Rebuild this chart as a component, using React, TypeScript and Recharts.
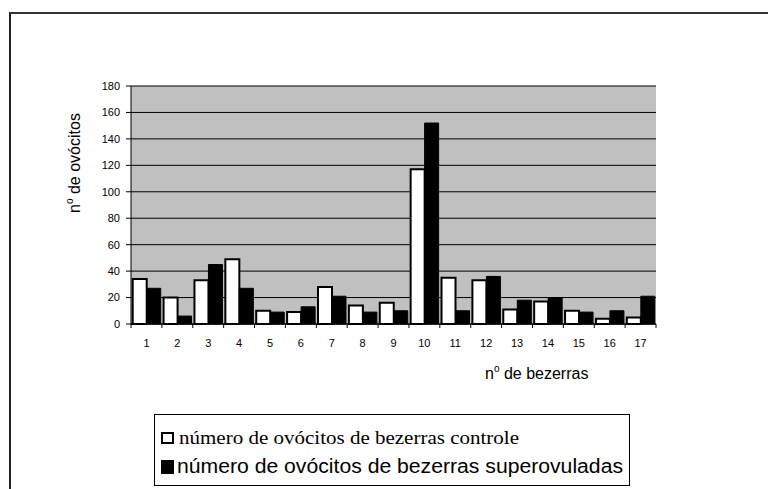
import { BarChart, Bar, XAxis, YAxis, CartesianGrid } from 'recharts';

// nº de bezerras
const categories = ['1', '2', '3', '4', '5', '6', '7', '8', '9', '10', '11', '12', '13', '14', '15', '16', '17'];
const controle = [34, 20, 33, 49, 10, 9, 28, 14, 16, 117, 35, 33, 11, 17, 10, 4, 5];
const superovuladas = [27, 6, 45, 27, 9, 13, 21, 9, 10, 152, 10, 36, 18, 20, 9, 10, 21];
const yTicks = [0, 20, 40, 60, 80, 100, 120, 140, 160, 180];

const data = categories.map((name, i) => ({
    name,
    controle: controle[i],
    superovuladas: superovuladas[i],
}));

const W = 768;
const H = 489;
const PLOT_LEFT = 131;
const PLOT_RIGHT = 656;
const BAND = (PLOT_RIGHT - PLOT_LEFT) / categories.length;

const SANS = 'Arial, "Liberation Sans", sans-serif';
const SERIF = '"Times New Roman", "Liberation Serif", serif';

function XTick(props: any) {
    const { x, y, payload, index } = props;
    const last = index === categories.length - 1;
    return (
        <g>
            <line x1={x - BAND / 2} x2={x - BAND / 2} y1={y} y2={y + 4} stroke="#000" />
            {last && <line x1={x + BAND / 2} x2={x + BAND / 2} y1={y} y2={y + 4} stroke="#000" />}
            <text x={x} y={y + 23} textAnchor="middle" fontSize={11} fontFamily={SANS} fill="#000">
                {payload.value}
            </text>
        </g>
    );
}

function YTitle() {
    return (
        <text
            x={80}
            y={163}
            transform="rotate(-90, 80, 163)"
            textAnchor="middle"
            fontSize={16}
            fontFamily={SANS}
            fill="#000"
        >
            n<tspan fontSize={10} dy={-7}>o</tspan>
            <tspan dy={7}> de ovócitos</tspan>
        </text>
    );
}

function XTitle() {
    return (
        <text x={485} y={379} fontSize={16} fontFamily={SANS} fill="#000">
            n<tspan fontSize={10} dy={-7}>o</tspan>
            <tspan dy={7}> de bezerras</tspan>
        </text>
    );
}

function LegendBox() {
    return (
        <div
            style={{
                position: 'absolute',
                left: 154,
                top: 414,
                width: 476,
                height: 72,
                border: '1px solid #000',
                boxSizing: 'border-box',
                background: '#fff',
            }}
        >
            <svg width={474} height={70} style={{ display: 'block' }}>
                <rect x={7} y={18} width={11} height={10} fill="#fff" stroke="#000" strokeWidth={2} />
                <text x={24} y={29} fontSize={19} fontFamily={SERIF} fill="#000" textLength={340} lengthAdjust="spacingAndGlyphs">
                    número de ovócitos de bezerras controle
                </text>
                <rect x={6} y={45} width={13} height={14} fill="#000" />
                <text x={22} y={58} fontSize={20} fontFamily={SANS} fill="#000" textLength={446} lengthAdjust="spacingAndGlyphs">
                    número de ovócitos de bezerras superovuladas
                </text>
            </svg>
        </div>
    );
}

export default function App() {
    return (
        <div style={{ position: 'absolute', left: 0, top: 0, width: W, height: H, background: '#fff', overflow: 'hidden' }}>
            <div
                style={{
                    position: 'absolute',
                    left: 9,
                    top: 12,
                    width: W,
                    height: H,
                    borderTop: '2px solid #333',
                    borderLeft: '2px solid #222',
                }}
            />
            <BarChart
                width={W}
                height={H}
                data={data}
                margin={{ top: 86, right: W - PLOT_RIGHT, bottom: 135, left: 0 }}
                barCategoryGap="5.5%"
                barGap={0}
                style={{ position: 'absolute', left: 0, top: 0 }}
            >
                <CartesianGrid vertical={false} fill="#c0c0c0" fillOpacity={1} stroke="#000" />
                <XAxis
                    dataKey="name"
                    height={30}
                    tickSize={0}
                    tickMargin={0}
                    tickLine={false}
                    axisLine={{ stroke: '#000' }}
                    tick={<XTick />}
                    interval={0}
                    label={{ content: <XTitle /> }}
                />
                <XAxis
                    xAxisId="top"
                    dataKey="name"
                    orientation="top"
                    height={0}
                    tick={false}
                    tickLine={false}
                    axisLine={{ stroke: '#808080', strokeWidth: 2 }}
                />
                <YAxis
                    width={PLOT_LEFT}
                    domain={[0, 180]}
                    ticks={yTicks}
                    interval={0}
                    tickSize={5}
                    tickMargin={6}
                    axisLine={{ stroke: '#000' }}
                    tickLine={{ stroke: '#000' }}
                    tick={{ fill: '#000', fontSize: 11, fontFamily: SANS }}
                    label={{ content: <YTitle /> }}
                />
                <YAxis
                    yAxisId="right"
                    orientation="right"
                    width={0}
                    domain={[0, 180]}
                    tick={false}
                    tickLine={false}
                    axisLine={{ stroke: '#808080', strokeWidth: 2 }}
                />
                <Bar dataKey="controle" fill="#fff" stroke="#000" strokeWidth={2} isAnimationActive={false} />
                <Bar dataKey="superovuladas" fill="#000" stroke="#000" strokeWidth={1} isAnimationActive={false} />
            </BarChart>
            <LegendBox />
        </div>
    );
}
